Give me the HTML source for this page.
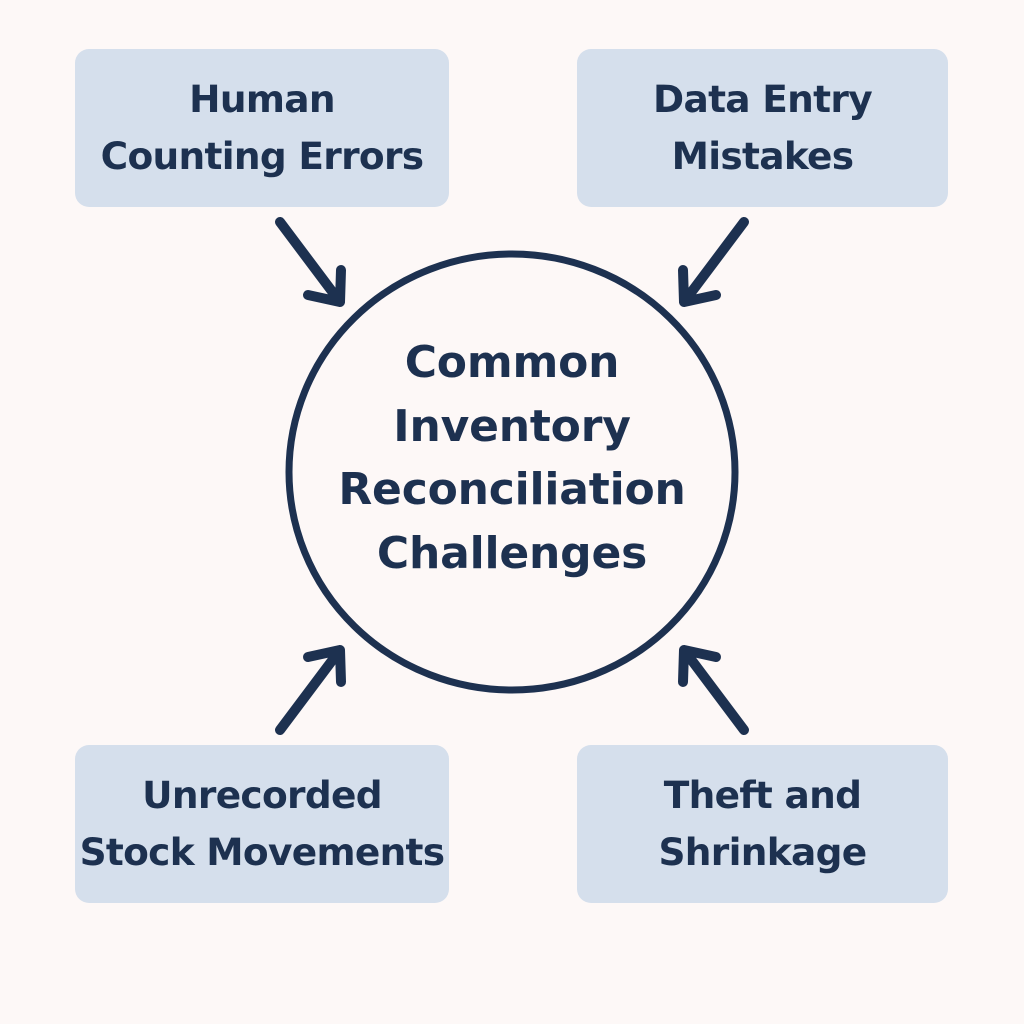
<!DOCTYPE html>
<html><head><style>
body{margin:0;width:1024px;height:1024px;background:#fdf8f7;overflow:hidden;position:relative;font-family:"DejaVu Sans","Liberation Sans",sans-serif;}
.box{position:absolute;width:374px;height:158px;background:#d5dfec;border-radius:14px;display:flex;align-items:center;justify-content:center;text-align:center;color:#1d3150;font-size:37.5px;line-height:57px;font-weight:bold;letter-spacing:-0.7px}
svg{position:absolute;left:0;top:0}
.c{position:absolute;left:260px;top:331px;width:504px;text-align:center;color:#1d3150;font-size:44px;line-height:63.5px;font-weight:bold;letter-spacing:-0.2px}
</style></head><body>
<div class="box" style="left:75px;top:49px">Human<br>Counting Errors</div>
<div class="box" style="left:577px;top:49px;width:371px">Data Entry<br>Mistakes</div>
<div class="box" style="left:75px;top:745px">Unrecorded<br>Stock Movements</div>
<div class="box" style="left:577px;top:745px;width:371px">Theft and<br>Shrinkage</div>
<svg width="1024" height="1024">
<ellipse cx="512" cy="472" rx="223" ry="218" fill="none" stroke="#1d3150" stroke-width="7"/>
<g stroke="#1d3150" stroke-width="10" stroke-linecap="round" stroke-linejoin="round" fill="none">
<path d="M280 222 L340 302 M341 270 L340 302 L308 295"/>
<path d="M744 222 L684 302 M683 270 L684 302 L716 295"/>
<path d="M280 730 L340 650 M341 682 L340 650 L308 657"/>
<path d="M744 730 L684 650 M683 682 L684 650 L716 657"/>
</g>
</svg>
<div class="c">Common<br>Inventory<br>Reconciliation<br>Challenges</div>
</body></html>
